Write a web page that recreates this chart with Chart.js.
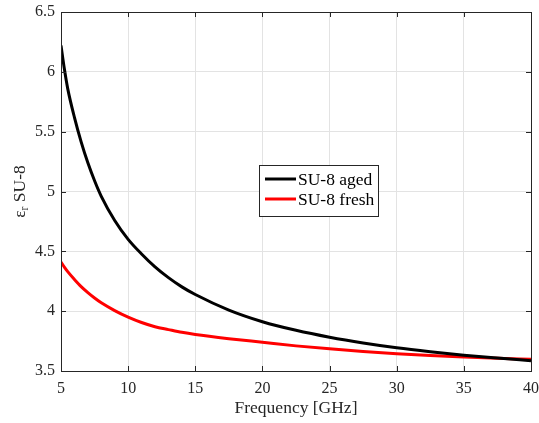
<!DOCTYPE html>
<html>
<head>
<meta charset="utf-8">
<script src="https://cdn.jsdelivr.net/npm/chart.js@4.4.1/dist/chart.umd.min.js"></script>
<style>
  html, body { margin: 0; padding: 0; background: #fff; }
  #wrap { width: 539px; height: 423px; position: relative; }
</style>
</head>
<body>
<div id="wrap"><canvas id="chart"></canvas></div>
<script>
// frequency points (GHz)
var freq = [5, 5.25, 5.5, 6, 6.5, 7, 7.5, 8, 9, 10, 11, 12, 13, 14, 15, 17.5, 20, 22.5, 25, 27.5, 30, 32.5, 35, 37.5, 40];
// permittivity of aged SU-8
var aged = [6.22, 6.025, 5.86, 5.62, 5.415, 5.24, 5.09, 4.96, 4.758, 4.60, 4.478, 4.37, 4.28, 4.203, 4.139, 4.009, 3.912, 3.84, 3.782, 3.734, 3.694, 3.661, 3.632, 3.608, 3.586];
// permittivity of fresh SU-8
var fresh = [4.41, 4.368, 4.33, 4.265, 4.205, 4.155, 4.11, 4.07, 4.005, 3.95, 3.905, 3.87, 3.846, 3.823, 3.805, 3.77, 3.74, 3.71, 3.685, 3.663, 3.645, 3.63, 3.618, 3.607, 3.598];

var xTicks = [5, 10, 15, 20, 25, 30, 35, 40];
var yTicks = [3.5, 4, 4.5, 5, 5.5, 6, 6.5];

var axisColor = '#262626';
var serif = "'Liberation Serif', 'Times New Roman', serif";

function toPoints(xs, ys) {
    var out = [];
    for (var i = 0; i < xs.length; i++) {
        out.push({x: xs[i], y: ys[i]});
    }
    return out;
}

// box round the axes, inward ticks, y title with subscript, legend inside
var matlabLook = {
    id: 'matlabLook',
    afterDraw: function(chart) {
        var ctx = chart.ctx;
        var a = chart.chartArea;
        var sx = chart.scales.x, sy = chart.scales.y;
        ctx.save();
        ctx.strokeStyle = axisColor;
        ctx.lineWidth = 1;
        ctx.beginPath();
        xTicks.forEach(function(v) {
            var px = Math.round(sx.getPixelForValue(v)) + 0.5;
            ctx.moveTo(px, a.bottom); ctx.lineTo(px, a.bottom - 5);
            ctx.moveTo(px, a.top); ctx.lineTo(px, a.top + 5);
        });
        yTicks.forEach(function(v) {
            var py = Math.round(sy.getPixelForValue(v)) + 0.5;
            ctx.moveTo(a.left, py); ctx.lineTo(a.left + 5, py);
            ctx.moveTo(a.right, py); ctx.lineTo(a.right - 5, py);
        });
        ctx.stroke();
        ctx.strokeRect(Math.round(a.left) + 0.5, Math.round(a.top) + 0.5,
            Math.round(a.right - a.left), Math.round(a.bottom - a.top));

        // y axis title: eps_r SU-8
        ctx.fillStyle = axisColor;
        ctx.textBaseline = 'alphabetic';
        ctx.textAlign = 'left';
        var big = '17.5px ' + serif, small = '11.5px ' + serif;
        ctx.font = big;
        var wEps = ctx.measureText('\u03b5').width;
        var wRest = ctx.measureText(' SU-8').width;
        ctx.font = small;
        var wR = ctx.measureText('r').width;
        var total = wEps + wR + wRest;
        ctx.translate(25, (a.top + a.bottom) / 2);
        ctx.rotate(-Math.PI / 2);
        var x0 = -total / 2;
        ctx.font = big;
        ctx.fillText('\u03b5', x0, 0);
        ctx.font = small;
        ctx.fillText('r', x0 + wEps, 3);
        ctx.font = big;
        ctx.fillText(' SU-8', x0 + wEps + wR, 0);
        ctx.restore();

        // legend box
        ctx.save();
        var lx = a.left + 198, ly = a.top + 153, lw = 119, lh = 51;
        ctx.fillStyle = '#fff';
        ctx.fillRect(lx, ly, lw, lh);
        ctx.strokeStyle = axisColor;
        ctx.lineWidth = 1;
        ctx.strokeRect(lx + 0.5, ly + 0.5, lw, lh);
        ctx.font = '17.5px ' + serif;
        ctx.textBaseline = 'middle';
        chart.data.datasets.forEach(function(ds, i) {
            var yy = ly + 14 + i * 20;
            ctx.strokeStyle = ds.borderColor;
            ctx.lineWidth = 3;
            ctx.beginPath();
            ctx.moveTo(lx + 6, yy); ctx.lineTo(lx + 37, yy);
            ctx.stroke();
            ctx.fillStyle = '#000';
            ctx.fillText(ds.label, lx + 39, yy + 1);
        });
        ctx.restore();
    }
};

var ctx = document.getElementById('chart').getContext('2d');
new Chart(ctx, {
    type: 'line',
    data: {
        datasets: [{
            label: 'SU-8 aged',
            data: toPoints(freq, aged),
            borderColor: '#000000',
            borderWidth: 3,
            pointRadius: 0,
            fill: false,
            cubicInterpolationMode: 'monotone'
        }, {
            label: 'SU-8 fresh',
            data: toPoints(freq, fresh),
            borderColor: '#ff0000',
            borderWidth: 3,
            pointRadius: 0,
            fill: false,
            cubicInterpolationMode: 'monotone'
        }]
    },
    options: {
        responsive: true,
        maintainAspectRatio: false,
        animation: false,
        layout: { padding: { left: 0, right: 8, top: 12, bottom: 0 } },
        plugins: {
            legend: { display: false },
            tooltip: { enabled: false }
        },
        scales: {
            x: {
                type: 'linear',
                min: 5, max: 40,
                afterBuildTicks: function(s) { s.ticks = xTicks.map(function(v) { return {value: v}; }); },
                afterFit: function(s) { s.height = 52; s.paddingLeft = 0; s.paddingRight = 0; },
                border: { display: false },
                grid: { color: '#e3e3e3', drawTicks: false },
                ticks: {
                    padding: 8, color: axisColor, font: { family: serif, size: 16 },
                    callback: function(v) { return String(v); }
                },
                title: {
                    display: true,
                    text: 'Frequency [GHz]',
                    color: axisColor,
                    font: { family: serif, size: 17.5 },
                    padding: { top: 0, bottom: 4 }
                }
            },
            y: {
                type: 'linear',
                min: 3.5, max: 6.5,
                afterBuildTicks: function(s) { s.ticks = yTicks.map(function(v) { return {value: v}; }); },
                afterFit: function(s) { s.width = 61; s.paddingTop = 0; s.paddingBottom = 0; },
                border: { display: false },
                grid: { color: '#e3e3e3', drawTicks: false },
                ticks: {
                    padding: 6, color: axisColor, font: { family: serif, size: 16 },
                    callback: function(v) { return String(v); }
                }
            }
        }
    },
    plugins: [matlabLook]
});
</script>
</body>
</html>
